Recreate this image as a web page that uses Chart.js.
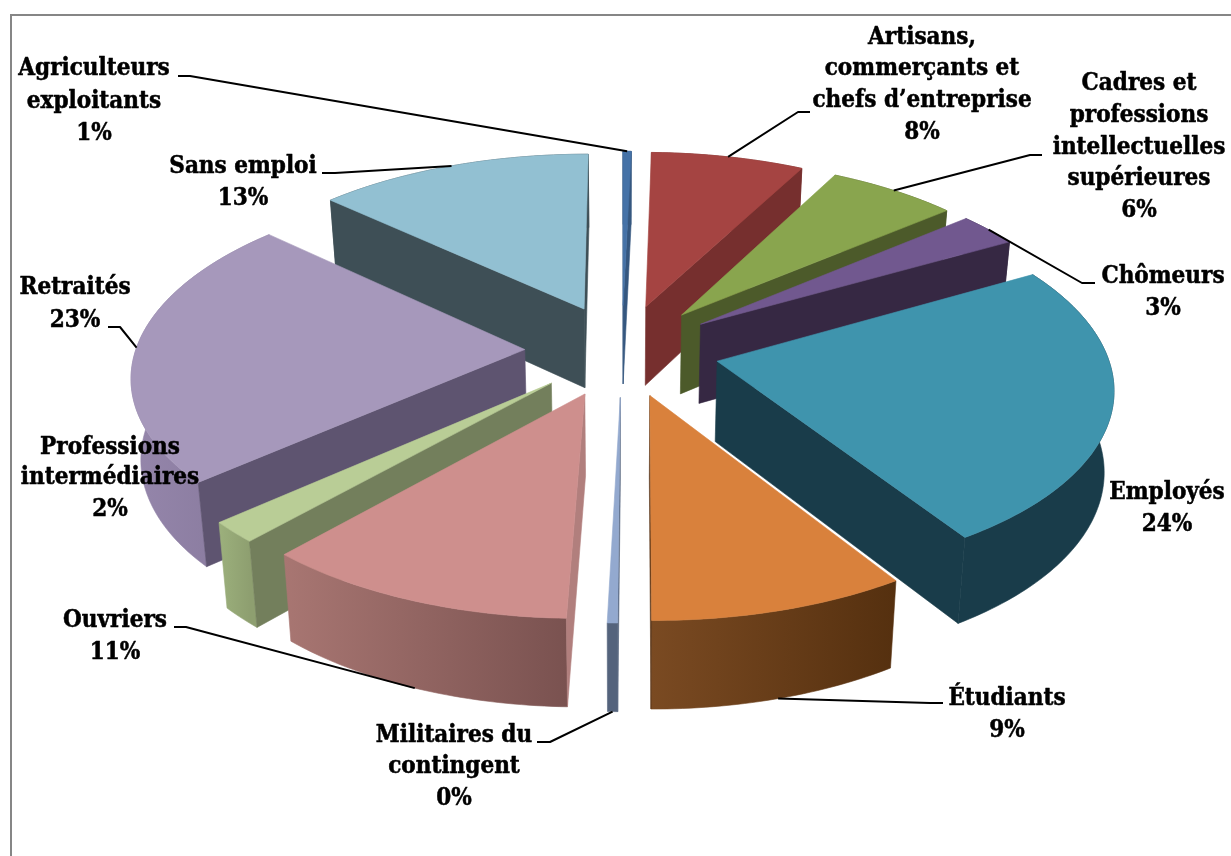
<!DOCTYPE html>
<html lang="fr"><head><meta charset="utf-8">
<style>html,body{margin:0;padding:0;background:#fff;overflow:hidden}canvas{display:block}</style>
<script src="https://cdn.jsdelivr.net/npm/chart.js@4"></script>
</head><body>
<canvas id="c" width="1231" height="856"></canvas>
<script>
const categories = ["Agriculteurs exploitants","Artisans, commerçants et chefs d’entreprise","Cadres et professions intellectuelles supérieures","Chômeurs","Employés","Étudiants","Militaires du contingent","Ouvriers","Professions intermédiaires","Retraités","Sans emploi"];
const values = [0.39,7.31,6.19,2.92,24.14,9.14,0.36,11.22,1.81,23.39,13.14];
const percentLabels = ["1%","8%","6%","3%","24%","9%","0%","11%","2%","23%","13%"];
const labelLines = [["Agriculteurs","exploitants"],["Artisans,","commerçants et","chefs d’entreprise"],["Cadres et","professions","intellectuelles","supérieures"],["Chômeurs"],["Employés"],["Étudiants"],["Militaires du","contingent"],["Ouvriers"],["Professions","intermédiaires"],["Retraités"],["Sans emploi"]];
const topColors = ["#4572a7","#a54442","#89a54e","#71588f","#3f94ad","#d9813c","#93a9cf","#ce8f8d","#b9cd96","#a698bb","#92c0d2"];
const faceColors = ["#35577f","#762f2e","#4c5a2a","#362843","#193c4a","#5a3415","#54637c","#b17f7d","#737f5c","#5e5470","#3e4f56"];
const arcLeft = ["#35577f","#762f2e","#4c5a2a","#362843","#193c4a","#7a4a22","#54637c","#a87672","#9cb07c","#9586ab","#3e4f56"];
const arcRight = ["#35577f","#762f2e","#4c5a2a","#362843","#193c4a","#55300f","#54637c","#7a5250","#8e9f70","#85779a","#3e4f56"];
// label layout: centre x, line centres, leader elbow [from, to], anchor plane
const labelLayout = [
 {x:94,y:[69,102,134],lead:[[178,76],[190,76]],plane:0},
 {x:922,y:[38,69,101,133],lead:[[810,112],[798,112]],plane:0},
 {x:1139,y:[84,116,148,179,211],lead:[[1042,155],[1030,155]],plane:0},
 {x:1163,y:[277,309],lead:[[1095,283],[1082,283]],plane:0},
 {x:1167,y:[493,525],lead:null},
 {x:1007,y:[699,731],lead:[[943,703],[930,703]],plane:1},
 {x:454,y:[736,767,799],lead:[[537,742],[550,742]],plane:1},
 {x:115,y:[621,653],lead:[[174,627],[186,627]],plane:1},
 {x:110,y:[448,478,510],lead:null},
 {x:75,y:[288,321],lead:[[108,327],[120,327]],plane:0},
 {x:243,y:[167,199],lead:[[322,173],[335,173]],plane:0}
];
const view = {cx:622,cy:350,R:389,ky:184,p:0.126,H:80,shrink:0.98};
const FONT = 'bold 24px "DejaVu Serif Condensed","Liberation Serif",serif';

function project(u,v,bottom){
  const s = 1/(1 - view.p*v);
  let x = view.cx + view.R*u*s, y = view.cy + view.ky*v*s;
  if(bottom){ x = view.cx + (x-view.cx)*view.shrink; y += view.H*Math.pow(s,0.6); }
  return [x,y];
}
function geom(arc){
  const a0 = arc.startAngle + Math.PI/2, a1 = arc.endAngle + Math.PI/2, m=(a0+a1)/2;
  const e = arc.options.offset/arc.outerRadius;
  const ex = e*Math.sin(m), ev = -e*Math.cos(m);
  const pt=(t,b)=>project(ex+Math.sin(t),ev-Math.cos(t),b);
  const apex=b=>project(ex,ev,b);
  return {a0,a1,m,ev,pt,apex};
}
function poly(ctx,pts,fill){
  ctx.beginPath(); pts.forEach((p,i)=>i?ctx.lineTo(p[0],p[1]):ctx.moveTo(p[0],p[1]));
  ctx.closePath(); ctx.fillStyle=fill; ctx.fill();
  ctx.lineWidth=0.6; ctx.strokeStyle=fill; ctx.stroke();
}
function drawSlice(ctx,arc,i){
  const g=geom(arc), n=Math.max(2,Math.ceil((g.a1-g.a0)*180/Math.PI));
  const topArc=[],botArc=[];
  for(let k=0;k<=n;k++){const t=g.a0+(g.a1-g.a0)*k/n; topArc.push(g.pt(t,false)); botArc.push(g.pt(t,true));}
  const xs=topArc.map(p=>p[0]);
  const grad=ctx.createLinearGradient(Math.min(...xs),0,Math.max(...xs),0);
  grad.addColorStop(0,arcLeft[i]); grad.addColorStop(1,arcRight[i]);
  poly(ctx,topArc.concat(botArc.slice().reverse()),grad);
  if(Math.sin(g.a0)<0.02) poly(ctx,[g.apex(false),g.pt(g.a0,false),g.pt(g.a0,true),g.apex(true)],faceColors[i]);
  if(Math.sin(g.a1)>-0.02) poly(ctx,[g.apex(false),g.pt(g.a1,false),g.pt(g.a1,true),g.apex(true)],faceColors[i]);
  poly(ctx,[g.apex(false)].concat(topArc),topColors[i]);
}
const pie3d = {
  id:'pie3d',
  beforeDraw(chart){
    const ctx=chart.ctx; ctx.save();
    ctx.fillStyle='#fff'; ctx.fillRect(0,0,chart.width,chart.height);
    ctx.strokeStyle='#868686'; ctx.lineWidth=2; ctx.strokeRect(11,15,1400,1000);
    ctx.restore();
  },
  beforeDatasetsDraw(chart){
    const ctx=chart.ctx, arcs=chart.getDatasetMeta(0).data;
    const order=arcs.map((a,i)=>i).sort((a,b)=>geom(arcs[a]).ev-geom(arcs[b]).ev);
    ctx.save(); order.forEach(i=>drawSlice(ctx,arcs[i],i)); ctx.restore();
    return false;
  },
  afterDraw(chart){
    const ctx=chart.ctx, arcs=chart.getDatasetMeta(0).data;
    ctx.save();
    ctx.strokeStyle='#000'; ctx.lineWidth=2; ctx.lineJoin='round';
    labelLayout.forEach((l,i)=>{
      if(!l.lead) return;
      const g=geom(arcs[i]), a=g.pt(g.m,!!l.plane);
      ctx.beginPath(); ctx.moveTo(l.lead[0][0],l.lead[0][1]); ctx.lineTo(l.lead[1][0],l.lead[1][1]); ctx.lineTo(a[0],a[1]); ctx.stroke();
    });
    ctx.font=FONT; ctx.fillStyle='#000'; ctx.strokeStyle='#000'; ctx.lineWidth=0.5; ctx.textAlign='center'; ctx.textBaseline='middle';
    labelLayout.forEach((l,i)=>{
      labelLines[i].concat(percentLabels[i]).forEach((t,k)=>{ctx.fillText(t,l.x,l.y[k]); ctx.strokeText(t,l.x,l.y[k]);});
    });
    ctx.restore();
  }
};
new Chart(document.getElementById('c'),{
  type:'pie',
  data:{labels:categories,datasets:[{data:values,backgroundColor:topColors,offset:75,borderWidth:0}]},
  options:{responsive:false,animation:false,rotation:0,radius:300,
    plugins:{legend:{display:false},tooltip:{enabled:false}}},
  plugins:[pie3d]
});
</script>
</body></html>
